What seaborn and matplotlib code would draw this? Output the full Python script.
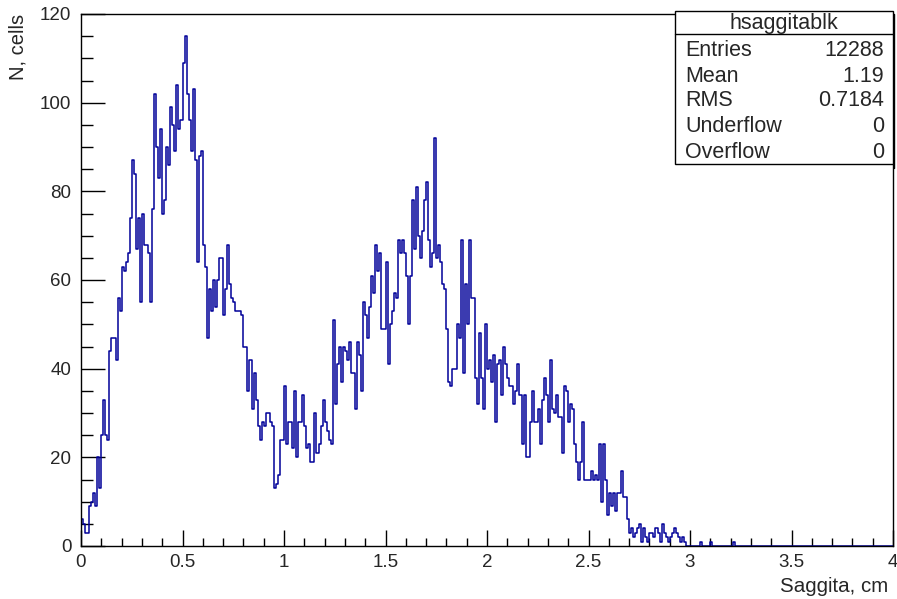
import numpy as np
import pandas as pd
import matplotlib
matplotlib.use("Agg")
import matplotlib.pyplot as plt
from matplotlib.patches import Rectangle
from matplotlib.lines import Line2D
from matplotlib.ticker import MultipleLocator
import seaborn as sns

# Histogram binning: 400 bins on [0, 4] cm
n_bins = 400
x_min, x_max = 0.0, 4.0

# Bin contents (cells per 0.01 cm bin), bins 0..329; remaining bins are empty
counts = [
    6, 5, 3, 3, 9, 10, 12, 9, 20, 13,
    25, 33, 25, 24, 44, 47, 47, 42, 56, 53,
    63, 62, 64, 66, 74, 87, 84, 67, 74, 55,
    75, 68, 68, 66, 55, 76, 102, 90, 83, 94,
    75, 78, 90, 86, 99, 95, 89, 104, 94, 96,
    109, 115, 102, 96, 89, 103, 87, 64, 88, 89,
    68, 63, 47, 58, 53, 60, 54, 60, 65, 65,
    52, 58, 68, 59, 56, 55, 53, 53, 53, 52,
    45, 45, 35, 42, 31, 39, 33, 27, 24, 28,
    27, 30, 30, 28, 27, 13, 14, 16, 24, 24,
    36, 23, 28, 28, 22, 35, 20, 28, 28, 34,
    27, 22, 23, 19, 19, 30, 21, 23, 27, 33,
    28, 26, 24, 23, 51, 32, 41, 45, 37, 45,
    44, 42, 46, 39, 39, 31, 46, 43, 35, 55,
    52, 47, 54, 61, 57, 68, 62, 66, 49, 49,
    64, 41, 50, 53, 57, 56, 69, 66, 69, 66,
    61, 50, 61, 78, 67, 81, 70, 65, 71, 78,
    82, 69, 63, 66, 92, 65, 68, 64, 59, 58,
    49, 37, 36, 40, 40, 50, 47, 69, 39, 59,
    50, 69, 56, 56, 38, 32, 48, 38, 31, 50,
    40, 42, 37, 43, 28, 41, 42, 34, 45, 41,
    38, 36, 36, 32, 35, 41, 34, 23, 34, 20,
    20, 28, 35, 28, 28, 31, 23, 33, 38, 34,
    28, 42, 31, 30, 34, 29, 29, 21, 36, 35,
    28, 32, 31, 23, 19, 15, 19, 28, 15, 15,
    15, 17, 15, 16, 15, 23, 10, 23, 15, 7,
    12, 9, 12, 8, 12, 12, 17, 11, 11, 6,
    3, 4, 2, 3, 4, 5, 1, 4, 2, 1,
    3, 3, 2, 4, 3, 1, 5, 3, 2, 1,
    2, 3, 4, 3, 2, 1, 2, 1, 0, 0,
    0, 0, 0, 0, 0, 1, 0, 0, 0, 0,
    1, 0, 0, 0, 0, 0, 0, 0, 0, 0,
    0, 1, 0, 0, 0, 0, 0, 0, 0, 0,
]

x_tick_labels = ["0", "0.5", "1", "1.5", "2", "2.5", "3", "3.5", "4"]
y_tick_labels = ["0", "20", "40", "60", "80", "100", "120"]

hist_name = "hsaggitablk"
stat_names = ["Entries", "Mean", "RMS", "Underflow", "Overflow"]
stat_values = ["12288", "1.19", "0.7184", "0", "0"]

# ---------------------------------------------------------------------------
edges = np.linspace(x_min, x_max, n_bins + 1)
centers = 0.5 * (edges[:-1] + edges[1:])
contents = np.zeros(n_bins)
contents[:len(counts)] = counts
df = pd.DataFrame({"saggita": centers, "cells": contents})

sns.set_theme(style="white")
plt.rcParams["font.family"] = ["Liberation Sans", "DejaVu Sans"]

W, H = 897, 599
fig = plt.figure(figsize=(W / 100, H / 100), dpi=100)
fig.patch.set_facecolor("white")

def fx(px):
    return px / W

def fy(py):
    return 1 - py / H

ax_l, ax_r, ax_t, ax_b = 81, 893, 14, 546
ax = fig.add_axes([fx(ax_l), fy(ax_b), (ax_r - ax_l) / W, (ax_b - ax_t) / H])

sns.histplot(data=df, x="saggita", weights="cells", bins=n_bins,
             binrange=(x_min, x_max), element="step", fill=False,
             color="#000099", linewidth=1.1, ax=ax)

ax.set_xlim(x_min, x_max)
ax.set_ylim(0, 120)
ax.set_xlabel("")
ax.set_ylabel("")

ax.set_xticks(np.arange(0, 4.01, 0.5))
ax.set_xticklabels(x_tick_labels)
ax.xaxis.set_minor_locator(MultipleLocator(0.1))
ax.set_yticks(np.arange(0, 121, 20))
ax.set_yticklabels(y_tick_labels)
ax.yaxis.set_minor_locator(MultipleLocator(5))

ax.tick_params(axis="x", which="major", direction="in", length=11.5, width=1,
               color="black", labelsize=13.5, pad=6, bottom=True, top=False)
ax.tick_params(axis="x", which="minor", direction="in", length=5.8, width=1,
               color="black", bottom=True, top=False)
ax.tick_params(axis="y", which="major", direction="in", length=17.3, width=1,
               color="black", labelsize=13.5, pad=7, left=True, right=False)
ax.tick_params(axis="y", which="minor", direction="in", length=8.6, width=1,
               color="black", left=True, right=False)

for s in ax.spines.values():
    s.set_visible(True)
    s.set_color("black")
    s.set_linewidth(1.0)

# Axis titles, aligned to the axis ends
fig.text(fx(18), fy(14), "N, cells", rotation=90, ha="center", va="top",
         fontsize=14.5)
fig.text(fx(888), fy(586), "Saggita, cm", ha="right", va="center",
         fontsize=14.8)

# Statistics box
bx_l, bx_r, bx_t, bx_b = 675, 893, 11, 164
fig.add_artist(Rectangle((fx(bx_l), fy(bx_b)), (bx_r - bx_l) / W,
                         (bx_b - bx_t) / H, transform=fig.transFigure,
                         facecolor="white", edgecolor="black", lw=1.0,
                         zorder=5))
fig.add_artist(Line2D([fx(bx_l), fx(bx_r)], [fy(34), fy(34)],
                      transform=fig.transFigure, color="black", lw=1.0,
                      zorder=6))
fig.add_artist(Line2D([fx(bx_r + 1), fx(bx_r + 1)], [fy(bx_t + 3), fy(bx_b + 4)],
                      transform=fig.transFigure, color="black", lw=1.0,
                      zorder=6))
fig.text(fx((bx_l + bx_r) / 2), fy(23), hist_name, ha="center", va="center",
         fontsize=15.5, zorder=7)
row_y = [50, 76, 101, 127, 153]
for name, val, ry in zip(stat_names, stat_values, row_y):
    fig.text(fx(685), fy(ry), name, ha="left", va="center", fontsize=15.5,
             zorder=7)
    fig.text(fx(884), fy(ry), val, ha="right", va="center", fontsize=15.5,
             zorder=7)

fig.savefig("out.png", dpi=100, facecolor="white")
